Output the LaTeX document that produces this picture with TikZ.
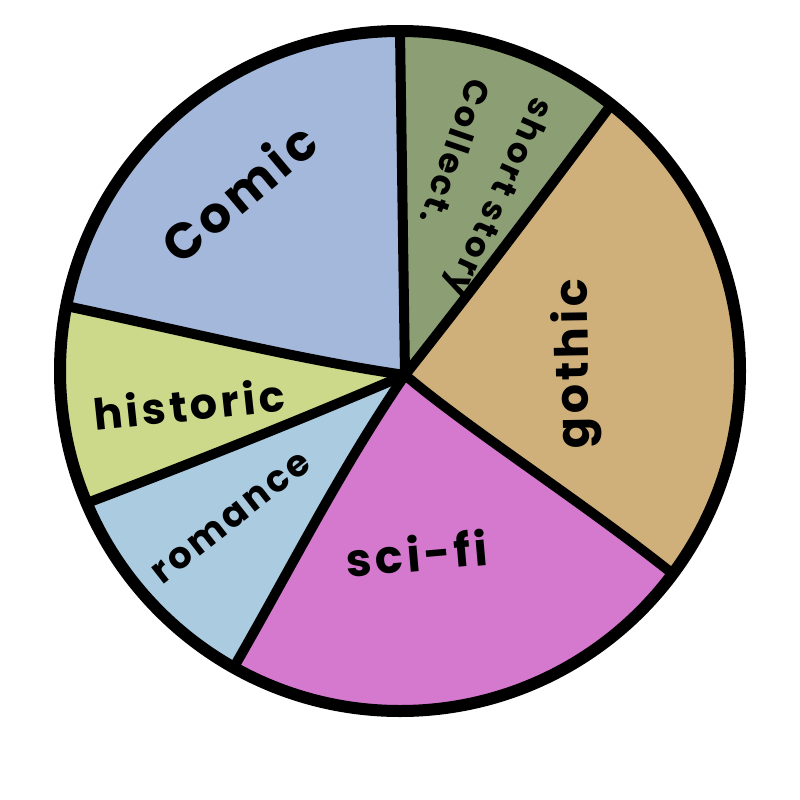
\documentclass[tikz,border=0pt]{standalone}
\usepackage{fontspec}
\newfontfamily\hand{Poppins}[LetterSpace=8]
\definecolor{ccomic}{HTML}{A3B8DA}
\definecolor{cshort}{HTML}{8C9E74}
\definecolor{cgothic}{HTML}{CFB07A}
\definecolor{cscifi}{HTML}{D479CE}
\definecolor{cromance}{HTML}{ABCBE0}
\definecolor{chistoric}{HTML}{CCD88A}
\tikzset{
  divider/.style={line width=10pt, line cap=round, line join=round},
  rim/.style={line width=12pt, line join=round},
  lbl/.style={text=black, inner sep=0pt}
}
\begin{document}
\begin{tikzpicture}[x=1pt,y=-1pt]
\useasboundingbox (0,0) rectangle (800,800);
\coordinate (o) at (400,371);
\coordinate (c) at (405,375);
\coordinate (e1) at (400,31);
\coordinate (e2) at (611,105);
\coordinate (e3) at (673,574);
\coordinate (e4) at (234,667);
\coordinate (e5) at (87,503);
\coordinate (e6) at (66,306);
\begin{scope}
\clip (o) circle[radius=340];
\fill[cshort] (c) -- (392,-493) -- (930,-300) -- cycle;
\fill[cgothic] (c) -- (930,-300) -- (1300,300) -- (1080,880) -- cycle;
\fill[cscifi] (c) -- (1080,880) -- (600,1300) -- (-20,1110) -- cycle;
\fill[cromance] (c) -- (-20,1110) -- (-390,700) -- cycle;
\fill[chistoric] (c) -- (-390,700) -- (-453,200) -- cycle;
\fill[ccomic] (c) -- (-453,200) -- (-300,-500) -- (392,-493) -- cycle;
\end{scope}
\draw[divider] (c) -- (e1);
\draw[divider] (c) .. controls (480,280) and (540,200) .. (e2);
\draw[divider] (c) .. controls (470,430) and (580,500) .. (e3);
\draw[divider] (c) .. controls (340,470) and (290,570) .. (e4);
\draw[divider] (c) .. controls (300,420) and (200,460) .. (e5);
\draw[divider] (c) .. controls (300,360) and (180,330) .. (e6);
\draw[rim] (o) circle[radius=340];
\node[lbl, font=\hand\bfseries\fontsize{50}{50}\selectfont, rotate=40] (comic) at (238,192) {Comic};
\node[lbl, font=\hand\bfseries\fontsize{43}{43}\selectfont, rotate=6] (historic) at (189,404) {historic};
\node[lbl, font=\hand\bfseries\fontsize{37}{37}\selectfont, rotate=38] (romance) at (232,518) {romance};
\node[lbl, font=\hand\bfseries\fontsize{46}{46}\selectfont, rotate=5] (scifi) at (417,553) {sci-fi};
\node[lbl, font=\hand\bfseries\fontsize{46}{46}\selectfont, rotate=91] (gothic) at (576,364) {gothic};
\node[lbl, font=\hand\bfseries\fontsize{34}{34}\selectfont, rotate=-114] (short) at (497,197) {short story};
\node[lbl, font=\hand\bfseries\fontsize{34}{34}\selectfont, rotate=-109] (collect) at (456,152) {Collect.};
\end{tikzpicture}
\end{document}
